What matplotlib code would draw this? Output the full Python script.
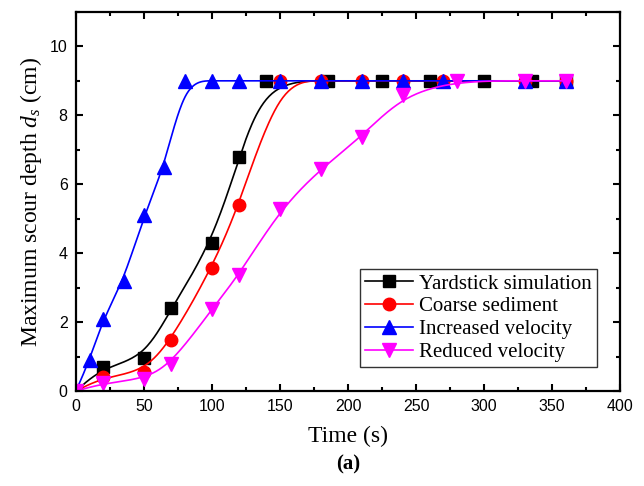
import numpy as np
import matplotlib
matplotlib.use("Agg")
import matplotlib.pyplot as plt
from matplotlib.ticker import MultipleLocator

# data
t_yard = [0, 20, 50, 70, 100, 120, 140, 185, 225, 260, 300, 335, 360]
d_yard = [0, 0.7, 0.95, 2.4, 4.3, 6.8, 9, 9, 9, 9, 9, 9, 9]

t_coarse = [0, 20, 50, 70, 100, 120, 150, 180, 210, 240, 270, 330, 360]
d_coarse = [0, 0.4, 0.56, 1.48, 3.58, 5.4, 9, 9, 9, 9, 9, 9, 9]

t_incr = [0, 10, 20, 35, 50, 65, 80, 100, 120, 150, 180, 210, 240, 270, 330, 360]
d_incr = [0, 0.9, 2.1, 3.2, 5.1, 6.5, 9, 9, 9, 9, 9, 9, 9, 9, 9, 9]

t_red = [0, 20, 50, 70, 100, 120, 150, 180, 210, 240, 280, 330, 360]
d_red = [0, 0.22, 0.35, 0.78, 2.38, 3.38, 5.27, 6.45, 7.38, 8.58, 9, 9, 9]

labels = ["Yardstick simulation", "Coarse sediment", "Increased velocity", "Reduced velocity"]
colors = ["black", "red", "blue", "magenta"]
markers = ["s", "o", "^", "v"]
sizes = [8.5, 9, 10, 10]


def bspline(x, y, n=30):
    # uniform cubic B-spline with the points as control points (Origin style)
    px = np.r_[x[0], x[0], x, x[-1], x[-1]].astype(float)
    py = np.r_[y[0], y[0], y, y[-1], y[-1]].astype(float)
    u = np.linspace(0, 1, n)
    b0 = (1 - u) ** 3 / 6
    b1 = (3 * u ** 3 - 6 * u ** 2 + 4) / 6
    b2 = (-3 * u ** 3 + 3 * u ** 2 + 3 * u + 1) / 6
    b3 = u ** 3 / 6
    xs, ys = [], []
    for i in range(len(px) - 3):
        xs.append(b0 * px[i] + b1 * px[i + 1] + b2 * px[i + 2] + b3 * px[i + 3])
        ys.append(b0 * py[i] + b1 * py[i + 1] + b2 * py[i + 2] + b3 * py[i + 3])
    return np.concatenate(xs), np.concatenate(ys)


plt.rcParams["font.family"] = "Liberation Sans"
plt.rcParams["mathtext.fontset"] = "custom"
plt.rcParams["mathtext.rm"] = "Liberation Serif"
plt.rcParams["mathtext.it"] = "Liberation Serif:italic"

fig = plt.figure(figsize=(6.44, 4.86), dpi=100)
ax = fig.add_axes([0.118, 0.1955, 0.845, 0.78])

series = [(t_yard, d_yard), (t_coarse, d_coarse), (t_incr, d_incr), (t_red, d_red)]
for (t, d), lab, c, m, ms in zip(series, labels, colors, markers, sizes):
    sx, sy = bspline(t, d)
    ax.plot(sx, sy, color=c, lw=1.2)
    ax.plot(t, d, linestyle="none", marker=m, color=c, ms=ms)
    ax.plot([], [], color=c, lw=1.2, marker=m, ms=ms, label=lab)

ax.set_xlim(0, 400)
ax.set_ylim(0, 11)
ax.xaxis.set_major_locator(MultipleLocator(50))
ax.xaxis.set_minor_locator(MultipleLocator(25))
ax.yaxis.set_major_locator(MultipleLocator(2))
ax.yaxis.set_minor_locator(MultipleLocator(1))
ax.tick_params(which="both", direction="in", top=True, right=True, width=1.5,
               labelsize=11.5, pad=6)
ax.tick_params(which="major", length=5)
ax.tick_params(which="minor", length=3)
for s in ax.spines.values():
    s.set_linewidth(1.6)

ax.set_xlabel("Time (s)", family="Liberation Serif", fontsize=17, labelpad=8)
ax.set_ylabel(r"Maximum scour depth $d_s$ (cm)", family="Liberation Serif",
              fontsize=17, labelpad=4)
fig.text(0.54, 0.035, "(a)", family="Liberation Serif", fontsize=15,
         fontweight="bold", ha="center")

leg = ax.legend(loc="lower right", bbox_to_anchor=(0.958, 0.063),
                prop={"family": "Liberation Serif", "size": 15},
                frameon=True, fancybox=False, edgecolor="black",
                handlelength=2.3, labelspacing=0.15, borderpad=0.25,
                handletextpad=0.3, borderaxespad=0)
leg.get_frame().set_linewidth(1.0)

fig.savefig("out.png", dpi=100)
